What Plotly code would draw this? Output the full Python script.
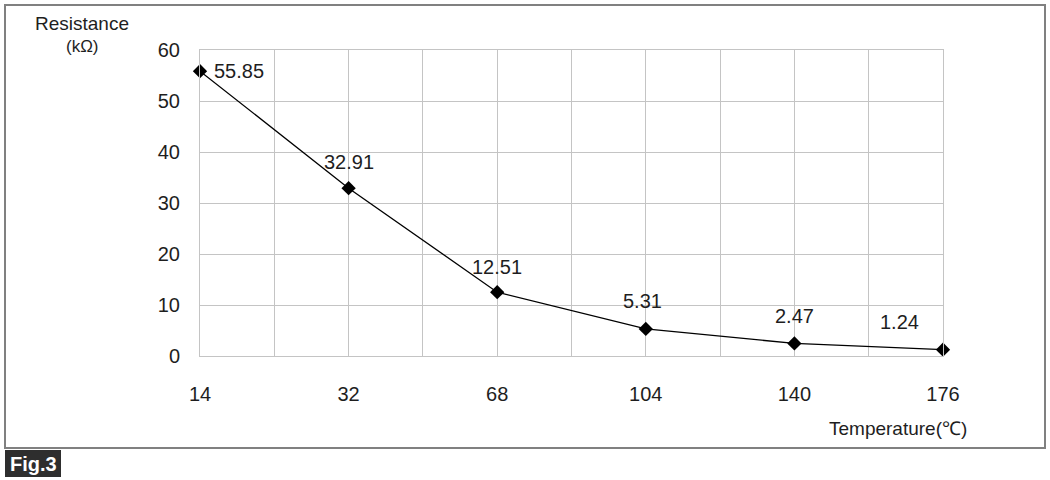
import plotly.graph_objects as go

temps = ["14", "32", "68", "104", "140", "176"]
resistance = [55.85, 32.91, 12.51, 5.31, 2.47, 1.24]
y_ticks = [0, 10, 20, 30, 40, 50, 60]

xs = list(range(len(temps)))

# plot area in pixels
L, R, T, B = 200, 943, 50, 356
W, H = 1050, 480
pw, ph = R - L, B - T

def px(x):
    return (x - L) / pw

def py(y):
    return (B - y) / ph

FONT = "Liberation Sans, Arial, sans-serif"
TXT = "#1e1e1e"

fig = go.Figure()
fig.add_trace(go.Scatter(
    x=xs, y=resistance, mode="lines+markers",
    line=dict(color="black", width=1.3),
    marker=dict(symbol="diamond", size=11, color="black"),
    hoverinfo="skip", showlegend=False, cliponaxis=False,
))

annotations = []
label_style = [
    dict(xanchor="left", yanchor="middle", xshift=12, yshift=0),
    dict(xanchor="center", yanchor="bottom", xshift=0, yshift=13),
    dict(xanchor="center", yanchor="bottom", xshift=0, yshift=12),
    dict(xanchor="center", yanchor="bottom", xshift=-3, yshift=15),
    dict(xanchor="center", yanchor="bottom", xshift=0, yshift=14),
    dict(xanchor="center", yanchor="bottom", xshift=-44, yshift=15),
]
for x, v, st in zip(xs, resistance, label_style):
    annotations.append(dict(
        x=x, y=v, xref="x", yref="y", text=f"{v:.2f}", showarrow=False,
        font=dict(size=20, color=TXT, family=FONT), **st))

annotations += [
    dict(x=px(82), y=py(23), xref="paper", yref="paper", text="Resistance",
         showarrow=False, font=dict(size=19, color=TXT, family=FONT),
         xanchor="center", yanchor="middle"),
    dict(x=px(82), y=py(46), xref="paper", yref="paper", text="(kΩ)",
         showarrow=False, font=dict(size=17, color=TXT, family=FONT),
         xanchor="center", yanchor="middle"),
    dict(x=px(969), y=py(428), xref="paper", yref="paper", text="Temperature(℃)",
         showarrow=False, font=dict(size=19, color=TXT, family=FONT),
         xanchor="right", yanchor="middle"),
    dict(x=px(33), y=py(464), xref="paper", yref="paper", text="<b>Fig.3</b>",
         showarrow=False, font=dict(size=20, color="white", family=FONT),
         xanchor="center", yanchor="middle"),
]

shapes = [
    dict(type="rect", xref="paper", yref="paper",
         x0=px(5), x1=px(1045), y0=py(448), y1=py(5),
         line=dict(color="#808080", width=2), fillcolor="rgba(0,0,0,0)", layer="below"),
    dict(type="rect", xref="paper", yref="paper",
         x0=px(5), x1=px(61), y0=py(477), y1=py(450),
         line=dict(width=0), fillcolor="#2e2e2e", layer="below"),
]

fig.update_layout(
    width=W, height=H,
    margin=dict(l=L, r=W - R, t=T, b=H - B),
    paper_bgcolor="white", plot_bgcolor="white",
    annotations=annotations, shapes=shapes,
    font=dict(family=FONT, size=20, color=TXT),
    xaxis=dict(
        range=[0, 5], tickvals=xs, ticktext=temps,
        showgrid=True, gridcolor="#c4c4c4", gridwidth=1,
        minor=dict(dtick=0.5, tick0=0, showgrid=True, gridcolor="#c4c4c4", gridwidth=1),
        zeroline=False, showline=True, linecolor="#c4c4c4", mirror=True,
        ticks="", ticklabelstandoff=20, tickfont=dict(size=20, color=TXT),
        fixedrange=True,
    ),
    yaxis=dict(
        range=[0, 60], tickvals=y_ticks,
        showgrid=True, gridcolor="#c4c4c4", gridwidth=1,
        zeroline=False, showline=True, linecolor="#c4c4c4", mirror=True,
        ticks="", ticklabelstandoff=15, tickfont=dict(size=20, color=TXT),
        fixedrange=True,
    ),
)

fig.write_html("out.html", config={"displayModeBar": False},
               post_script="document.body.style.margin='0';")
